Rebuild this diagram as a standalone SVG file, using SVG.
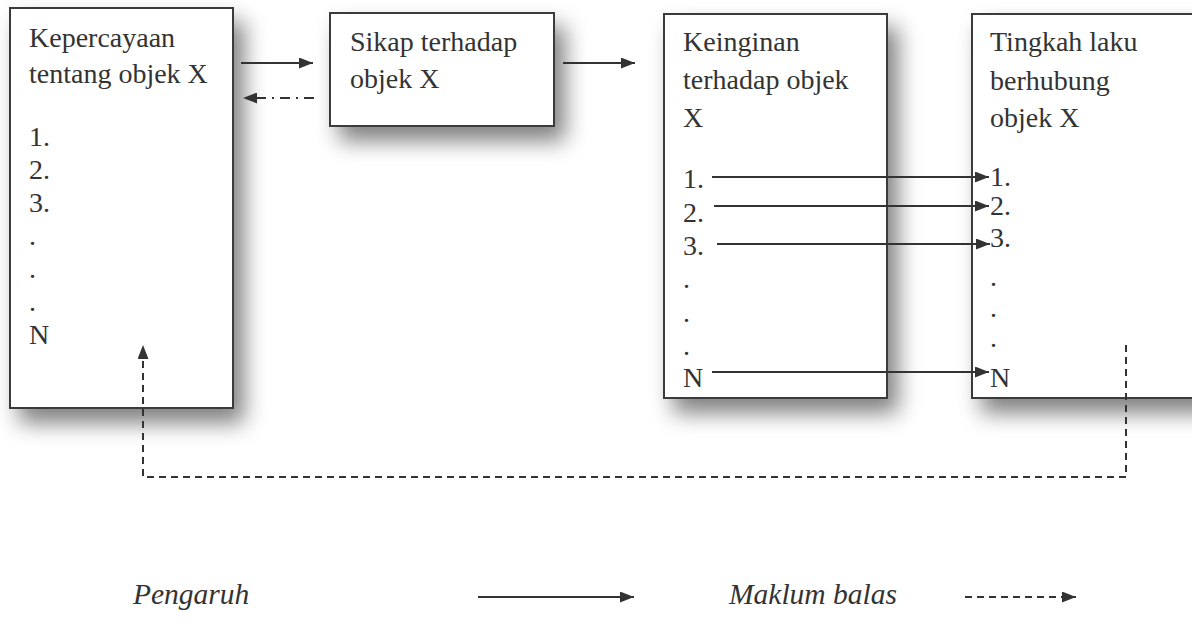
<svg xmlns="http://www.w3.org/2000/svg" width="1192" height="637" viewBox="0 0 1192 637">
<style>
.box{fill:#fff;stroke:#3a3a3a;stroke-width:2;filter:url(#sh)}
.t{font-family:"Liberation Serif","Times New Roman",serif;font-size:28px;fill:#333}
.ti{font-family:"Liberation Serif","Times New Roman",serif;font-size:29.5px;font-style:italic;fill:#333}
.ln{fill:none;stroke:#333;stroke-width:2}
.dash{fill:none;stroke:#333;stroke-width:2;stroke-dasharray:7 5}
.dd{fill:none;stroke:#333;stroke-width:2;stroke-dasharray:10 6 2 6}
</style>
<defs>
<filter id="sh" x="-25%" y="-25%" width="160%" height="160%">
<feGaussianBlur in="SourceAlpha" stdDeviation="11"/>
<feOffset dx="10" dy="14" result="b"/>
<feComponentTransfer><feFuncA type="linear" slope="0.5"/></feComponentTransfer>
<feMerge><feMergeNode/><feMergeNode in="SourceGraphic"/></feMerge>
</filter>
<marker id="ah" viewBox="0 0 14 11" refX="14" refY="5.5" markerWidth="14" markerHeight="11" markerUnits="userSpaceOnUse" orient="auto">
<path d="M0,0 L14,5.5 L0,11 z" fill="#333"/>
</marker>
</defs>
<rect width="1192" height="637" fill="#fff"/>

<g id="node-kepercayaan">
<rect class="box" x="10" y="8" width="223" height="400"/>
<text class="t" x="29" y="47">Kepercayaan</text>
<text class="t" x="29" y="83">tentang objek X</text>
<text class="t" x="29" y="146">1.</text>
<text class="t" x="29" y="179">2.</text>
<text class="t" x="29" y="212">3.</text>
<text class="t" x="29" y="245">.</text>
<text class="t" x="29" y="278">.</text>
<text class="t" x="29" y="311">.</text>
<text class="t" x="29" y="344">N</text>
</g>

<g id="node-sikap">
<rect class="box" x="330" y="13" width="224" height="113"/>
<text class="t" x="350" y="51">Sikap terhadap</text>
<text class="t" x="350" y="88">objek X</text>
</g>

<g id="node-keinginan">
<rect class="box" x="664" y="14" width="223" height="384"/>
<text class="t" x="683" y="51">Keinginan</text>
<text class="t" x="683" y="89">terhadap objek</text>
<text class="t" x="683" y="127">X</text>
<text class="t" x="683" y="188">1.</text>
<text class="t" x="683" y="222">2.</text>
<text class="t" x="683" y="255">3.</text>
<text class="t" x="683" y="288">.</text>
<text class="t" x="683" y="322">.</text>
<text class="t" x="683" y="355">.</text>
<text class="t" x="683" y="387">N</text>
</g>

<g id="node-tingkah">
<rect class="box" x="972" y="14" width="240" height="384"/>
<text class="t" x="990" y="51">Tingkah laku</text>
<text class="t" x="990" y="90">berhubung</text>
<text class="t" x="990" y="127">objek X</text>
<text class="t" x="990" y="186">1.</text>
<text class="t" x="990" y="215">2.</text>
<text class="t" x="990" y="247">3.</text>
<text class="t" x="990" y="286">.</text>
<text class="t" x="990" y="317">.</text>
<text class="t" x="990" y="347">.</text>
<text class="t" x="990" y="387">N</text>
</g>

<g id="connectors">
<line class="ln" x1="241" y1="63" x2="313" y2="63" marker-end="url(#ah)"/>
<line class="dd" x1="314" y1="98" x2="243" y2="98" marker-end="url(#ah)"/>
<line class="ln" x1="563" y1="63" x2="635" y2="63" marker-end="url(#ah)"/>
<line class="ln" x1="712" y1="177" x2="989" y2="177" marker-end="url(#ah)"/>
<line class="ln" x1="714" y1="206" x2="989" y2="206" marker-end="url(#ah)"/>
<line class="ln" x1="717" y1="244" x2="990" y2="244" marker-end="url(#ah)"/>
<line class="ln" x1="712" y1="372" x2="989" y2="372" marker-end="url(#ah)"/>
<polyline class="dash" points="1126,345 1126,477 143,477 143,345" marker-end="url(#ah)"/>
</g>

<g id="legend">
<text class="ti" x="133" y="604">Pengaruh</text>
<line class="ln" x1="478" y1="597" x2="634" y2="597" marker-end="url(#ah)"/>
<text class="ti" x="729" y="604">Maklum balas</text>
<line class="dash" x1="965" y1="597" x2="1076" y2="597" marker-end="url(#ah)"/>
</g>
</svg>
